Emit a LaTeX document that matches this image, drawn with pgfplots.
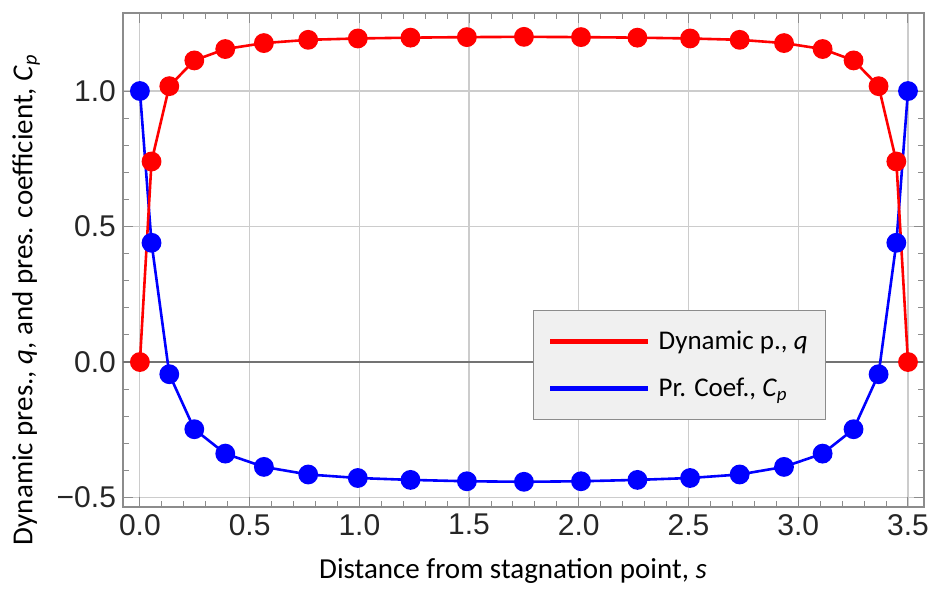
\documentclass[border=0pt]{standalone}
\usepackage{fontspec}
\setmainfont{Carlito}
\newfontfamily\arial{Liberation Sans}
\usepackage{pgfplots}
\pgfplotsset{compat=1.18}
\begin{document}
\begin{tikzpicture}
\begin{axis}[
  scale only axis, width=400.5pt, height=247pt,
  xmin=-0.077, xmax=3.573, ymin=-0.535, ymax=1.288,
  xtick={0,0.5,1,1.5,2,2.5,3,3.5},
  xticklabels={0.0,0.5,1.0,1.5,2.0,2.5,3.0,3.5},
  ytick={-0.5,0,0.5,1},
  yticklabels={−0.5,0.0,0.5,1.0},
  minor x tick num=4, minor y tick num=4,
  tick align=inside, major tick length=5pt, minor tick length=3pt,
  tick style={black!45, line width=0.5pt},
  grid=major, grid style={black!20, line width=0.6pt},
  axis line style={black!45, line width=0.8pt},
  ticklabel style={font=\arial\fontsize{15}{15}\selectfont, text=black!85},
  extra y ticks={0}, extra y tick labels={},
  extra y tick style={grid style={black!55, line width=0.6pt}, major tick length=0pt},
  xlabel={Distance from stagnation point, \textit{s}},
  ylabel={Dynamic pres., \textit{q}, and pres. coefficient, \textit{C}\textsubscript{\textit{p}}},
  label style={font=\fontsize{14.5}{14.5}\selectfont},
  xlabel style={at={(axis description cs:0.487,-0.1296)}, anchor=center},
  ylabel style={at={(axis description cs:-0.121,0.42)}, anchor=center, rotate=0},
  legend style={at={(axis description cs:0.512,0.399)}, anchor=north west,
    fill=black!6, draw=black!45, line width=0.6pt,
    font=\fontsize{13.5}{13.5}\selectfont, inner xsep=7pt, inner ysep=8pt, row sep=9pt},
  legend cell align=left,
  legend image code/.code={\draw[line width=2.4pt] (0pt,0pt) -- (49pt,0pt); \path (52pt,0pt);},
]
\addplot[blue, line width=1.3pt, mark=*, mark size=4.3pt, forget plot] coordinates {
(0,1.0) (0.053,0.44) (0.134,-0.045) (0.248,-0.248) (0.389,-0.338) (0.565,-0.387)
(0.767,-0.415) (0.993,-0.428) (1.233,-0.435) (1.49,-0.440) (1.75,-0.442)
(2.01,-0.440) (2.267,-0.435) (2.507,-0.428) (2.733,-0.415) (2.935,-0.387)
(3.111,-0.338) (3.252,-0.248) (3.366,-0.045) (3.447,0.44) (3.5,1.0)};
\addplot[red, line width=1.3pt, mark=*, mark size=4.3pt, forget plot] coordinates {
(0,0) (0.053,0.740) (0.134,1.018) (0.248,1.113) (0.389,1.155) (0.565,1.177)
(0.767,1.189) (0.993,1.194) (1.233,1.197) (1.49,1.199) (1.75,1.200)
(2.01,1.199) (2.267,1.197) (2.507,1.194) (2.733,1.189) (2.935,1.177)
(3.111,1.155) (3.252,1.113) (3.366,1.018) (3.447,0.740) (3.5,0)};
\addlegendimage{red}
\addlegendentry{Dynamic p., \textit{q}}
\addlegendimage{blue}
\addlegendentry{Pr. Coef., \textit{C}\textsubscript{\textit{p}}}
\end{axis}
\pgfresetboundingbox
\path (-61.5pt,-41pt) rectangle (403.5pt,253.5pt);
\end{tikzpicture}
\end{document}
